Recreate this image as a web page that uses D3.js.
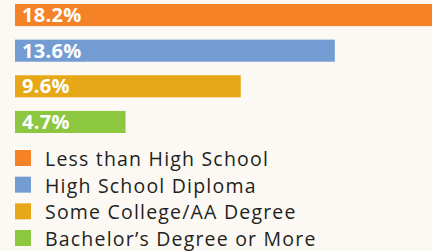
<!DOCTYPE html>
<html>
<head>
<meta charset="utf-8">
<script src="https://cdn.jsdelivr.net/npm/d3@7"></script>
<style>
  html, body { margin: 0; padding: 0; background: #fcf9f4; }
  svg { display: block; }
</style>
</head>
<body>
<svg id="chart" width="432" height="251"></svg>
<script>
// values
var categories = ["Less than High School", "High School Diploma", "Some College/AA Degree", "Bachelor\u2019s Degree or More"];
var values = [18.2, 13.6, 9.6, 4.7];
var colors = ["#f68228", "#739dd2", "#e6a817", "#8dc63f"];

var svg = d3.select("#chart");

var x = d3.scaleLinear().domain([0, 18.2]).range([15, 443]);
var y = d3.scaleBand().domain(categories).range([4, 133]).paddingInner(0.38).paddingOuter(0);

var rows = categories.map(function(c, i){ return {name: c, value: values[i], color: colors[i]}; });

// bars
svg.append("g").selectAll("rect")
  .data(rows)
  .enter().append("rect")
    .attr("x", x(0))
    .attr("y", function(d){ return y(d.name); })
    .attr("width", function(d){ return x(d.value) - x(0); })
    .attr("height", y.bandwidth())
    .attr("fill", function(d){ return d.color; });

// value labels inside the bars
svg.append("g").selectAll("text")
  .data(rows)
  .enter().append("text")
    .attr("x", x(0) + 7)
    .attr("y", function(d){ return y(d.name) + y.bandwidth()/2 + 7; })
    .attr("fill", "#ffffff")
    .style("font-family", "'Open Sans', sans-serif")
    .style("font-weight", "bold")
    .style("font-size", "20px")
    .style("letter-spacing", "0.3px")
    .text(function(d){ return d.value.toFixed(1) + "%"; });

// legend
var ly = d3.scalePoint().domain(categories).range([150, 230]);

var legend = svg.append("g").selectAll("g")
  .data(rows)
  .enter().append("g")
    .attr("transform", function(d){ return "translate(15," + ly(d.name) + ")"; });

legend.append("rect")
  .attr("width", 16)
  .attr("height", 16)
  .attr("fill", function(d){ return d.color; });

legend.append("text")
  .attr("x", 30)
  .attr("y", 16)
  .attr("fill", "#231f20")
  .style("font-family", "'Open Sans', sans-serif")
  .style("font-size", "19.5px")
  .style("letter-spacing", "1.2px")
  .text(function(d){ return d.name; });
</script>
</body>
</html>
